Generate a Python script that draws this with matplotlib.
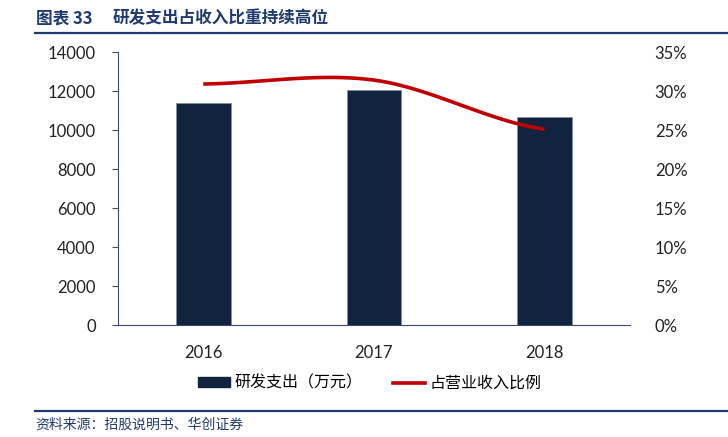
import numpy as np
import matplotlib.pyplot as plt
from matplotlib.lines import Line2D
from matplotlib.patches import Patch

plt.rcParams['font.family'] = ['Lato', 'Noto Sans CJK SC', 'DejaVu Sans']

years = ['2016', '2017', '2018']
rd_spend = [11400, 12060, 10680]      # 研发支出（万元）
rd_ratio = [30.9, 31.4, 25.1]         # 占营业收入比例 (%)

navy = '#11233F'
red = '#C00000'

fig = plt.figure(figsize=(7.28, 4.37), dpi=100)
ax = fig.add_axes([0.162, 0.256, 0.703, 0.625])
x = np.arange(len(years))
ax.bar(x, rd_spend, width=0.32, color=navy, edgecolor='#7F8FA6', linewidth=0.6, zorder=2)
ax.set_xlim(-0.5, len(years) - 0.5)
ax.set_ylim(0, 14000)
ax.set_yticks(range(0, 14001, 2000))
ax.set_xticks(x)
ax.set_xticklabels(years)
for s in ['top', 'right']:
    ax.spines[s].set_visible(False)
ax.spines['left'].set_color('#3B4A66')
ax.spines['bottom'].set_color('#3B4A66')
ax.tick_params(axis='y', length=4, color='#3B4A66', labelsize=12, pad=12, labelcolor='#222222')
ax.tick_params(axis='x', length=0, labelsize=12, pad=14, labelcolor='#222222')

# smoothed line (cardinal spline through the points, like Excel smoothing)
ax2 = ax.twinx()
p = np.array(rd_ratio)
ext = np.concatenate([[p[0]], p, [p[-1]]])
xs, ys = [], []
for i in range(len(p) - 1):
    m0 = (ext[i + 2] - ext[i]) / 2
    m1 = (ext[i + 3] - ext[i + 1]) / 2
    t = np.linspace(0, 1, 50)
    h00 = 2 * t**3 - 3 * t**2 + 1
    h10 = t**3 - 2 * t**2 + t
    h01 = -2 * t**3 + 3 * t**2
    h11 = t**3 - t**2
    xs.extend(i + t)
    ys.extend(h00 * p[i] + h10 * m0 + h01 * p[i + 1] + h11 * m1)
ax2.plot(xs, ys, color=red, lw=2.6, solid_capstyle='butt', zorder=3)
ax2.set_ylim(0, 35)
ax2.set_yticks(range(0, 36, 5))
ax2.set_yticklabels([f'{v}%' for v in range(0, 36, 5)])
for s in ['top', 'right', 'left', 'bottom']:
    ax2.spines[s].set_visible(False)
ax2.tick_params(axis='y', length=0, labelsize=12, pad=18, labelcolor='#222222')

handles = [Patch(color=navy), Line2D([], [], color=red, lw=2.6)]
fig.legend(handles, ['研发支出（万元）', '占营业收入比例'], loc='center',
           bbox_to_anchor=(0.508, 0.123), ncol=2, frameon=False,
           prop={'family': ['Noto Sans CJK SC'], 'size': 11.5},
           handlelength=2.0, handleheight=0.55, handletextpad=0.3,
           columnspacing=1.9)

# title and source
fig.text(0.049, 0.958, '图表 33', fontsize=12,
         fontweight='bold', color='#1F3A6E', va='center',
         family=['Noto Sans CJK SC'])
fig.text(0.155, 0.958, '研发支出占收入比重持续高位', fontsize=12,
         fontweight='bold', color='#1F3A6E', va='center',
         family=['Noto Sans CJK SC'])
fig.add_artist(Line2D([0.048, 1.0], [0.925, 0.925], color='#1F3A6E', lw=1.6))
fig.add_artist(Line2D([0.048, 1.0], [0.060, 0.060], color='#1F3A6E', lw=1.6))
fig.text(0.049, 0.028, '资料来源：招股说明书、华创证券', fontsize=10,
         color='#1F3A6E', va='center', family=['Noto Sans CJK SC'])

fig.savefig('out.png', dpi=100)
